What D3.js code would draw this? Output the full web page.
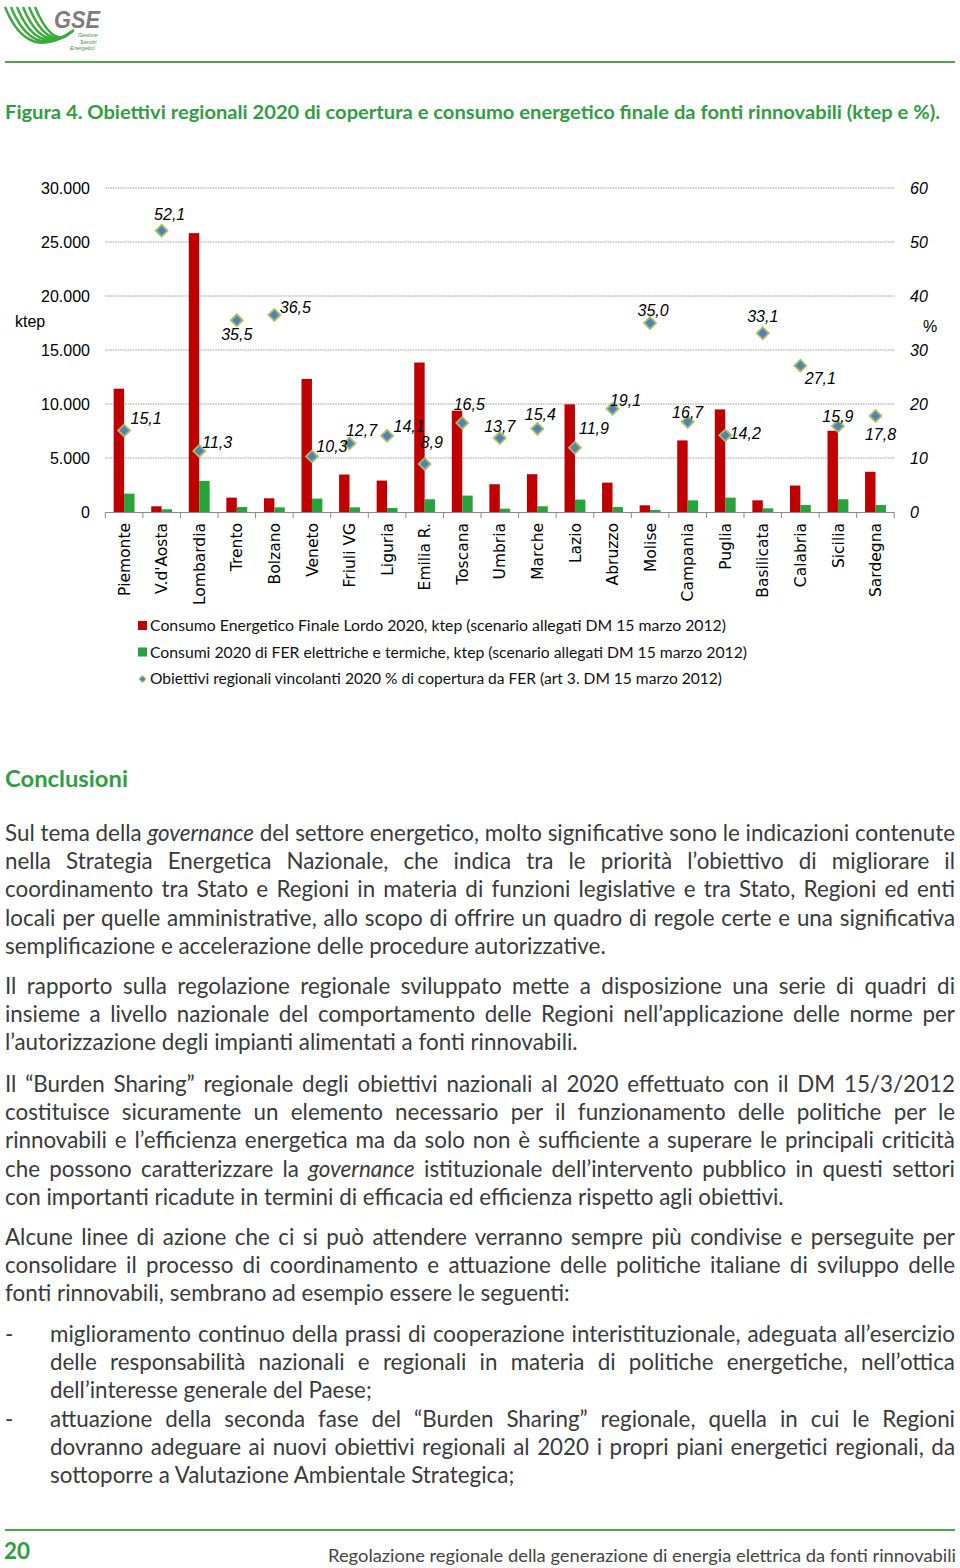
<!DOCTYPE html>
<html><head><meta charset="utf-8">
<script src="https://cdn.jsdelivr.net/npm/d3@7"></script>
<style>body{margin:0;background:#fff} svg{display:block}</style>
</head><body>
<svg id="page" width="960" height="1568"></svg>
<script>
// ---------- DATA ----------
const regions = ["Piemonte","V.d'Aosta","Lombardia","Trento","Bolzano","Veneto","Friuli VG","Liguria","Emilia R.","Toscana","Umbria","Marche","Lazio","Abruzzo","Molise","Campania","Puglia","Basilicata","Calabria","Sicilia","Sardegna"];
const consumoFinale = [11420,530,25820,1330,1270,12320,3470,2910,13840,9380,2570,3500,9970,2720,620,6630,9500,1080,2450,7520,3720];
const consumoFER = [1700,250,2880,460,430,1240,430,370,1180,1520,310,530,1150,460,190,1080,1330,340,650,1180,650];
const obiettivi = [15.1,52.1,11.3,35.5,36.5,10.3,12.7,14.1,8.9,16.5,13.7,15.4,11.9,19.1,35.0,16.7,14.2,33.1,27.1,15.9,17.8];
const leftTicks = [0,5000,10000,15000,20000,25000,30000];
const rightTicks = [0,10,20,30,40,50,60];
const legendLabels = [
  "Consumo Energetico Finale Lordo 2020, ktep (scenario allegati DM 15 marzo 2012)",
  "Consumi 2020 di FER elettriche e termiche, ktep (scenario allegati DM 15 marzo 2012)",
  "Obiettivi regionali vincolanti 2020 % di copertura da FER (art 3. DM 15 marzo 2012)"
];
// label placement of the percentage labels relative to each diamond [dx, dy]
const labelPos = [[22,-12],[8,-16],[18,-9],[0,14],[21,-8],[20,-10],[12,-13],[22,-10],[7,-22],[7,-19],[0,-12],[3,-15],[19,-20],[13,-9],[3,-13],[0,-10],[20,-2],[0,-17],[20,13],[0,-10],[5,18]];

const titleText = "Figura 4. Obiettivi regionali 2020 di copertura e consumo energetico finale da fonti rinnovabili (ktep e %).";
const paragraphs = [
  {indent:false, lines:[
    "Sul tema della *governance* del settore energetico, molto significative sono le indicazioni contenute",
    "nella Strategia Energetica Nazionale, che indica tra le priorità l’obiettivo di migliorare il",
    "coordinamento tra Stato e Regioni in materia di funzioni legislative e tra Stato, Regioni ed enti",
    "locali per quelle amministrative, allo scopo di offrire un quadro di regole certe e una significativa",
    "semplificazione e accelerazione delle procedure autorizzative."]},
  {indent:false, lines:[
    "Il rapporto sulla regolazione regionale sviluppato mette a disposizione una serie di quadri di",
    "insieme a livello nazionale del comportamento delle Regioni nell’applicazione delle norme per",
    "l’autorizzazione degli impianti alimentati a fonti rinnovabili."]},
  {indent:false, lines:[
    "Il “Burden Sharing” regionale degli obiettivi nazionali al 2020 effettuato con il DM 15/3/2012",
    "costituisce sicuramente un elemento necessario per il funzionamento delle politiche per le",
    "rinnovabili e l’efficienza energetica ma da solo non è sufficiente a superare le principali criticità",
    "che possono caratterizzare la *governance* istituzionale dell’intervento pubblico in questi settori",
    "con importanti ricadute in termini di efficacia ed efficienza rispetto agli obiettivi."]},
  {indent:false, lines:[
    "Alcune linee di azione che ci si può attendere verranno sempre più condivise e perseguite per",
    "consolidare il processo di coordinamento e attuazione delle politiche italiane di sviluppo delle",
    "fonti rinnovabili, sembrano ad esempio essere le seguenti:"]},
  {indent:true, lines:[
    "miglioramento continuo della prassi di cooperazione interistituzionale, adeguata all’esercizio",
    "delle responsabilità nazionali e regionali in materia di politiche energetiche, nell’ottica",
    "dell’interesse generale del Paese;"]},
  {indent:true, lines:[
    "attuazione della seconda fase del “Burden Sharing” regionale, quella in cui le Regioni",
    "dovranno adeguare ai nuovi obiettivi regionali al 2020 i propri piani energetici regionali, da",
    "sottoporre a Valutazione Ambientale Strategica;"]}
];
const paraStartY = [841, 994, 1092, 1245, 1342, 1427];

// ---------- STYLE ----------
const GREEN = "#2f9e41", RED = "#c00000", BARGREEN = "#27a33b";
const bodyFont = "Lato, 'Open Sans', sans-serif";
const chartFont = "'Liberation Sans', Arial, sans-serif";

const svg = d3.select("#page");
svg.append("rect").attr("width",960).attr("height",1568).attr("fill","#fff");

const it = d3.formatLocale({decimal:",", thousands:".", grouping:[3], currency:["€",""]});
const fmtK = it.format(",");
const fmtP = it.format(".1f");

// ---------- LOGO / HEADER ----------
const logo = svg.append("g");
for (let i = 0; i < 6; i++) {
  const sx = 5 + i*6, cx = 28 + i*4.5, cy = 64 - i*4, ex = 74 - i*1.5, ey = 30 + i*1.2;
  logo.append("path").attr("d", `M${sx},7 Q${cx},${cy} ${ex},${ey}`)
    .attr("fill","none").attr("stroke","#3aab3a").attr("stroke-width",2.4);
}
logo.append("text").attr("x",54).attr("y",28).attr("font-family",chartFont)
  .attr("font-weight","bold").attr("font-style","italic").attr("font-size",24)
  .attr("fill","#7d7d7d").attr("textLength",46).attr("lengthAdjust","spacingAndGlyphs").text("GSE");
[["Gestore",78,37],["Servizi",80,43.5],["Energetici",70,50]].forEach(([t,x,y])=>{
  logo.append("text").attr("x",x).attr("y",y).attr("font-family",chartFont).attr("font-style","italic")
    .attr("font-size",5.5).attr("fill","#4a8a4a").text(t);
});
svg.append("line").attr("x1",5).attr("x2",955).attr("y1",62).attr("y2",62)
  .attr("stroke","#4aa84a").attr("stroke-width",2);

svg.append("text").attr("x",5).attr("y",119).attr("font-family",bodyFont).attr("font-weight","bold")
  .attr("font-size",19.5).attr("fill",GREEN).attr("textLength",935).attr("lengthAdjust","spacingAndGlyphs")
  .text(titleText);

// ---------- CHART ----------
const x0 = d3.scaleBand().domain(regions).range([105.3, 894.3]);
const x1 = d3.scaleBand().domain(["cfl","fer"]).range([0, x0.bandwidth()]).paddingOuter(0.8).paddingInner(0);
const yL = d3.scaleLinear().domain([0,30000]).range([512,188]);
const yR = d3.scaleLinear().domain([0,60]).range([512,188]);
const chart = svg.append("g");

// gridlines
chart.append("g").selectAll("line").data(leftTicks.filter(d=>d>0)).join("line")
  .attr("x1",105.3).attr("x2",894.3).attr("y1",d=>yL(d)).attr("y2",d=>yL(d))
  .attr("stroke","#9a9a9a").attr("stroke-width",1).attr("stroke-dasharray","1.5,1");

// left axis labels
const axL = d3.axisLeft(yL).tickValues(leftTicks).tickFormat(fmtK).tickSize(0).tickPadding(15);
const gL = chart.append("g").attr("transform","translate(105,0)").call(axL);
gL.select(".domain").remove();
gL.selectAll("text").attr("font-family",chartFont).attr("font-size",16).attr("fill","#000");

// right axis labels
const axR = d3.axisRight(yR).tickValues(rightTicks).tickFormat(d3.format("d")).tickSize(0).tickPadding(16);
const gR = chart.append("g").attr("transform","translate(894,0)").call(axR);
gR.select(".domain").remove();
gR.selectAll("text").attr("font-family",chartFont).attr("font-size",16).attr("font-style","italic").attr("fill","#000");

chart.append("text").attr("x",15).attr("y",327).attr("font-family",chartFont).attr("font-size",16).text("ktep");
chart.append("text").attr("x",923).attr("y",332).attr("font-family",chartFont).attr("font-size",16).text("%");

// bars
const rows = regions.map((r,i)=>({r, cfl:consumoFinale[i], fer:consumoFER[i], pct:obiettivi[i], lp:labelPos[i]}));
chart.append("g").selectAll("rect").data(rows).join("rect")
  .attr("x",d=>x0(d.r)+x1("cfl")).attr("width",x1.bandwidth())
  .attr("y",d=>yL(d.cfl)).attr("height",d=>yL(0)-yL(d.cfl)).attr("fill",RED);
chart.append("g").selectAll("rect").data(rows).join("rect")
  .attr("x",d=>x0(d.r)+x1("fer")).attr("width",x1.bandwidth())
  .attr("y",d=>yL(d.fer)).attr("height",d=>yL(0)-yL(d.fer)).attr("fill",BARGREEN);

// bottom axis
const axB = d3.axisBottom(x0).tickSize(0).tickPadding(0).tickFormat("");
const gB = chart.append("g").attr("transform","translate(0,512)").call(axB);
gB.select(".domain").attr("stroke","#8a8a8a").attr("d","M105.3,0.5H894.3");
gB.selectAll(".tick").remove();
const bounds = regions.map(r=>x0(r)).concat([x0.range()[1]]);
gB.selectAll("line.bt").data(bounds).join("line").attr("class","bt")
  .attr("x1",d=>d).attr("x2",d=>d).attr("y1",0).attr("y2",6).attr("stroke","#8a8a8a");

// category labels
chart.append("g").selectAll("text").data(regions).join("text")
  .attr("transform",d=>`translate(${x0(d)+x0.bandwidth()/2},523) rotate(-90)`)
  .attr("text-anchor","end").attr("dy","0.36em")
  .attr("font-family","'DejaVu Sans', Verdana, sans-serif").attr("font-size",15.5).attr("fill","#000")
  .text(d=>d);

// diamonds
const diamond = d3.symbol().type(d3.symbolSquare).size(70);
chart.append("g").selectAll("path").data(rows).join("path")
  .attr("d",diamond())
  .attr("transform",d=>`translate(${x0(d.r)+x0.bandwidth()/2},${yR(d.pct)}) rotate(45)`)
  .attr("fill","#4f81bd").attr("stroke","#a4bf5c").attr("stroke-width",1.8);

chart.append("g").selectAll("text").data(rows).join("text")
  .attr("x",d=>x0(d.r)+x0.bandwidth()/2+d.lp[0]).attr("y",d=>yR(d.pct)+d.lp[1])
  .attr("dy","0.36em").attr("text-anchor","middle")
  .attr("font-family",chartFont).attr("font-style","italic").attr("font-size",16).attr("fill","#000")
  .text(d=>fmtP(d.pct));

// legend
const legY = [631, 657.5, 684];
const legW = [576, 597, 572];
const leg = svg.append("g");
leg.append("rect").attr("x",138).attr("y",621).attr("width",9).attr("height",9).attr("fill",RED);
leg.append("rect").attr("x",138).attr("y",647.5).attr("width",9).attr("height",9).attr("fill",BARGREEN);
leg.append("path").attr("d",d3.symbol().type(d3.symbolSquare).size(22)())
  .attr("transform","translate(142.5,679) rotate(45)").attr("fill","#4f81bd").attr("stroke","#a4bf5c").attr("stroke-width",1);
leg.selectAll("text").data(legendLabels).join("text")
  .attr("x",150).attr("y",(d,i)=>legY[i]).attr("font-family",bodyFont).attr("font-size",15.5).attr("fill","#111")
  .attr("textLength",(d,i)=>legW[i]).attr("lengthAdjust","spacingAndGlyphs").text(d=>d);

// ---------- TEXT BODY ----------
svg.append("text").attr("x",5).attr("y",787).attr("font-family",bodyFont).attr("font-weight","bold")
  .attr("font-size",23).attr("fill",GREEN).attr("textLength",123).attr("lengthAdjust","spacingAndGlyphs").text("Conclusioni");

// fit body font size to reference measure (last line of 1st paragraph = 601px)
const probe = svg.append("text").attr("font-family",bodyFont).attr("font-size",20)
  .text("semplificazione e accelerazione delle procedure autorizzative.");
const bodySize = 20 * 601 / probe.node().getComputedTextLength();
probe.remove();

const body = svg.append("g").attr("font-family",bodyFont).attr("font-size",bodySize).attr("fill","#3a3a3a");
function drawLine(str, x, y, width, justify) {
  const t = body.append("text").attr("x",x).attr("y",y);
  str.split(/(\*[^*]+\*)/).forEach(seg=>{
    if (!seg) return;
    const itl = seg.startsWith("*");
    t.append("tspan").text(itl ? seg.slice(1,-1) : seg).attr("font-style", itl ? "italic" : null);
  });
  if (justify) {
    const w = t.node().getComputedTextLength();
    const n = (str.match(/ /g)||[]).length;
    if (n) t.attr("word-spacing", (width - w)/n);
  }
}
paragraphs.forEach((p,pi)=>{
  const x = p.indent ? 50 : 5, width = 955 - x;
  if (p.indent) body.append("text").attr("x",5).attr("y",paraStartY[pi]).text("-");
  p.lines.forEach((l,li)=>{
    drawLine(l, x, paraStartY[pi] + li*28.2, width, li < p.lines.length-1);
  });
});

// ---------- FOOTER ----------
svg.append("line").attr("x1",5).attr("x2",955).attr("y1",1530).attr("y2",1530)
  .attr("stroke","#4aa84a").attr("stroke-width",2);
svg.append("text").attr("x",4).attr("y",1559).attr("font-family",bodyFont).attr("font-weight","bold")
  .attr("font-size",22).attr("fill",GREEN).attr("textLength",26).attr("lengthAdjust","spacingAndGlyphs").text("20");
svg.append("text").attr("x",328).attr("y",1562).attr("font-family",bodyFont)
  .attr("font-size",17).attr("fill","#444").attr("textLength",628).attr("lengthAdjust","spacingAndGlyphs")
  .text("Regolazione regionale della generazione di energia elettrica da fonti rinnovabili");
</script>
</body></html>
